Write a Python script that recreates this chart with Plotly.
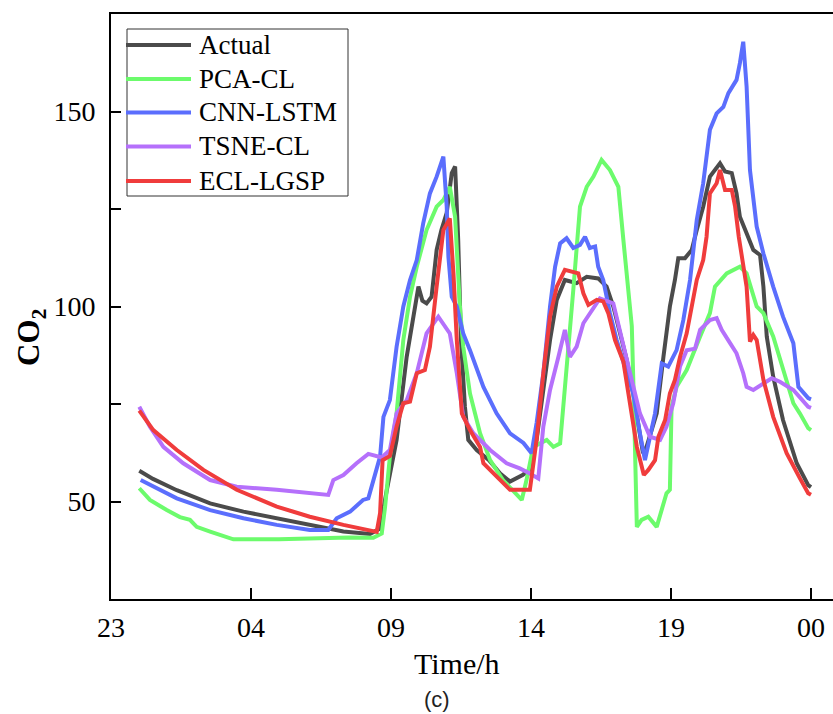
import plotly.graph_objects as go

# ---------------- data (x = hours elapsed since 23:00) ----------------
tick_pos = [0, 5, 10, 15, 20, 25]
tick_labels = ["23", "04", "09", "14", "19", "00"]
series_names = ["Actual", "PCA-CL", "CNN-LSTM", "TSNE-CL", "ECL-LGSP"]
series_colors = ["#4b4b4b", "#6cfb6c", "#5b6efd", "#b570fb", "#f03c3c"]

actual_x = [1.01, 1.5, 2.35, 3.54, 4.73, 5.92, 7.1, 8.3, 9.25, 9.6, 9.85, 10.2, 10.56, 10.8, 10.98, 11.12, 11.27, 11.45,
            11.63, 11.8, 11.99, 12.17, 12.29, 12.4, 12.5, 12.64, 12.76, 13.06, 13.5, 13.9, 14.25, 14.7, 14.96, 15.2,
            15.44, 15.68, 15.92, 16.21, 16.63, 16.99, 17.4, 17.7, 17.94, 18.18, 18.42, 18.65, 18.9, 19.0, 19.13, 19.3,
            19.49, 19.73, 19.96, 20.14, 20.26, 20.5, 20.74, 20.92, 21.15, 21.39, 21.75, 21.93, 22.17, 22.34, 22.46,
            22.7, 22.94, 23.18, 23.3, 23.42, 23.65, 24.0, 24.49, 24.9, 25.0]
actual_y = [57.9, 55.8, 52.9, 49.5, 47.4, 45.7, 44.2, 42.3, 41.7, 43.0, 52.9, 65.8, 87.1, 97.4, 105.1, 101.5, 100.8, 102.5,
            114.5, 119.6, 124.0, 134.2, 135.9, 117.0, 91.4, 74.3, 65.8, 63.2, 60.6, 57.2, 55.1, 56.8, 58.1, 65.8,
            78.6, 91.4, 101.7, 106.8, 106.0, 107.6, 107.2, 105.1, 100.0, 93.1, 86.3, 77.7, 67.5, 62.4, 64.1, 68.3,
            72.6, 87.1, 100.0, 106.8, 112.4, 112.4, 114.5, 119.6, 125.6, 133.3, 136.7, 134.6, 134.2, 129.0, 123.0,
            118.8, 114.5, 113.2, 105.1, 92.3, 82.0, 70.9, 59.8, 54.2, 53.7]

pca_x = [1.01, 1.39, 1.99, 2.46, 2.82, 3.06, 3.54, 4.37, 6.0, 7.5, 8.5, 9.37, 9.67, 9.79, 9.96, 10.2, 10.44, 10.68,
         10.92, 11.27, 11.63, 11.87, 12.1, 12.29, 12.46, 12.58, 12.82, 13.18, 13.54, 14.0, 14.43, 14.67, 14.84, 15.08,
         15.56, 15.8, 16.04, 16.27, 16.51, 16.75, 16.99, 17.23, 17.52, 17.82, 18.12, 18.3, 18.48, 18.6, 18.68, 18.78,
         18.95, 19.19, 19.49, 19.84, 19.96, 20.02, 20.2, 20.56, 21.04, 21.39, 21.57, 21.99, 22.46, 22.7, 23.06, 23.3,
         23.65, 24.0, 24.37, 24.6, 24.9, 25.0]
pca_y = [53.4, 50.4, 47.8, 46.0, 45.3, 43.5, 42.3, 40.3, 40.3, 40.6, 40.8, 40.7, 41.8, 48.7, 61.5, 72.6, 91.4, 102.5,
         110.2, 119.6, 125.6, 127.3, 130.7, 123.0, 100.0, 89.7, 77.7, 67.5, 60.6, 55.5, 52.1, 50.4, 55.5, 64.0,
         65.8, 64.0, 64.9, 82.9, 104.2, 125.6, 130.7, 133.3, 137.6, 135.0, 130.7, 117.0, 104.2, 95.0, 74.0, 43.5,
         45.3, 46.1, 43.5, 52.1, 53.0, 74.3, 79.4, 83.7, 92.3, 98.3, 105.1, 108.5, 110.2, 108.5, 100.0, 98.3,
         92.3, 83.7, 75.2, 72.6, 68.8, 68.3]

cnn_x = [1.06, 2.35, 3.54, 4.73, 5.92, 7.1, 7.76, 8.06, 8.54, 9.0, 9.19, 9.37, 9.61, 9.73, 9.96, 10.2, 10.44, 10.68,
         10.92, 11.15, 11.39, 11.63, 11.87, 11.99, 12.05, 12.17, 12.35, 12.58, 12.82, 13.3, 13.77, 14.25, 14.73,
         15.02, 15.2, 15.44, 15.68, 15.86, 16.04, 16.27, 16.51, 16.75, 16.93, 17.1, 17.29, 17.4, 17.58, 17.82, 18.06,
         18.42, 18.65, 18.89, 19.07, 19.25, 19.43, 19.67, 19.9, 20.2, 20.44, 20.68, 20.92, 21.15, 21.39, 21.63,
         21.87, 22.05, 22.34, 22.46, 22.58, 22.7, 22.82, 23.06, 23.3, 23.65, 24.0, 24.37, 24.55, 24.9, 25.0]
cnn_y = [55.5, 50.8, 47.8, 45.7, 44.0, 42.7, 42.7, 45.7, 47.4, 50.4, 50.8, 55.1, 61.5, 71.7, 76.0, 89.7, 100.0, 106.8,
         111.9, 121.3, 129.0, 133.3, 138.4, 125.6, 112.8, 102.5, 100.0, 93.1, 88.8, 79.4, 72.6, 67.5, 65.0,
         62.4, 70.1, 82.9, 100.0, 110.2, 116.2, 117.5, 115.0, 115.8, 117.9, 115.0, 115.4, 110.2, 106.8, 98.3, 91.4,
         82.9, 77.7, 67.5, 60.6, 66.6, 72.6, 85.4, 84.6, 88.8, 96.5, 106.8, 122.2, 131.6, 145.3, 149.5,
         151.2, 154.7, 158.1, 162.4, 167.9, 156.4, 135.0, 120.5, 113.6, 105.1, 97.4, 90.6, 79.4, 76.5, 76.2]

tsne_x = [1.01, 1.39, 1.87, 2.58, 3.54, 4.49, 5.92, 7.1, 7.76, 7.94, 8.3, 8.77, 9.19, 9.67, 9.96, 10.2, 10.56, 10.92,
          11.27, 11.69, 11.93, 12.1, 12.35, 12.58, 12.94, 13.54, 14.13, 14.6, 14.96, 15.26, 15.44, 15.68, 15.98, 16.21,
          16.39, 16.63, 16.87, 17.17, 17.46, 17.94, 18.18, 18.54, 18.89, 19.25, 19.61, 19.84, 20.08, 20.32, 20.56,
          20.86, 21.04, 21.39, 21.63, 21.81, 22.11, 22.34, 22.58, 22.7, 22.94, 23.3, 23.6, 23.89, 24.37, 24.9, 25.0]
tsne_y = [74.3, 69.2, 64.0, 59.8, 55.5, 53.8, 53.0, 52.1, 51.7, 55.5, 56.8, 59.8, 62.2, 61.3, 63.2, 72.6, 76.0, 82.9,
          93.1, 97.4, 94.8, 93.1, 82.9, 71.7, 67.5, 63.2, 59.8, 58.5, 57.2, 55.9, 69.2, 78.6, 87.1, 94.0,
          87.1, 89.7, 95.7, 99.1, 102.1, 100.8, 94.0, 82.9, 72.6, 66.6, 65.8, 69.2, 75.2, 84.6, 88.8,
          89.2, 94.0, 96.5, 97.0, 94.0, 90.6, 88.0, 82.9, 79.4, 78.6, 80.3, 81.6, 80.7, 78.6, 74.3, 74.0]

ecl_x = [1.01, 1.51, 2.35, 3.3, 4.49, 5.92, 7.1, 8.3, 9.49, 9.61, 9.7, 9.96, 10.2, 10.44, 10.68, 10.92, 11.21, 11.39,
         11.63, 11.87, 12.1, 12.23, 12.35, 12.53, 12.82, 13.18, 13.3, 13.77, 14.25, 14.49, 14.96, 15.2, 15.44, 15.68,
         15.92, 16.21, 16.51, 16.69, 16.87, 17.05, 17.35, 17.58, 17.76, 18.0, 18.3, 18.54, 18.78, 19.03, 19.19, 19.43,
         19.55, 19.79, 19.96, 20.14, 20.32, 20.56, 20.92, 21.15, 21.27, 21.39, 21.63, 21.75, 21.87, 21.93, 22.17,
         22.29, 22.42, 22.58, 22.7, 22.82, 22.94, 23.06, 23.3, 23.65, 24.13, 24.6, 24.9, 25.0]
ecl_y = [73.3, 68.3, 63.2, 58.1, 53.0, 48.7, 46.1, 44.0, 42.2, 47.0, 60.6, 61.7, 69.2, 75.2, 75.6, 82.9, 83.7, 89.7,
         105.1, 119.6, 122.6, 108.5, 91.4, 72.6, 68.3, 64.0, 59.8, 56.4, 53.0, 53.0, 53.0, 65.8, 82.9, 97.4,
         105.1, 109.4, 109.0, 108.5, 103.4, 100.4, 101.7, 101.3, 98.3, 91.4, 85.8, 74.3, 64.0, 56.8, 58.1, 60.6,
         66.6, 70.9, 77.7, 81.2, 87.0, 93.1, 106.8, 111.9, 117.9, 129.0, 131.6, 135.0, 131.6, 129.9, 129.9,
         125.6, 117.9, 111.1, 105.1, 91.0, 92.7, 91.4, 81.2, 71.7, 62.4, 56.0, 52.1, 51.7]

series_x = [actual_x, pca_x, cnn_x, tsne_x, ecl_x]
series_y = [actual_y, pca_y, cnn_y, tsne_y, ecl_y]

# ---------------- layout geometry ----------------
W, H = 833, 714
L, R, T, B = 111, 833, 14, 599
SERIF = "Liberation Serif"
SANS = "Liberation Sans"


def px(x):
    return (x - L) / (R - L)


def py(y):
    return (B - y) / (B - T)


fig = go.Figure()
for name, color, xs, ys in zip(series_names, series_colors, series_x, series_y):
    fig.add_trace(go.Scatter(x=xs, y=ys, mode="lines", name=name,
                             line=dict(color=color, width=4), showlegend=False))

fig.update_layout(
    width=W, height=H,
    margin=dict(l=L, r=W - R, t=T, b=H - B, pad=0),
    paper_bgcolor="white", plot_bgcolor="white",
    font=dict(family=SERIF, color="black"),
)
fig.update_xaxes(
    range=[0, 25 + (R - 811) / 28.0],
    tickvals=tick_pos, ticktext=tick_labels,
    ticks="inside", ticklen=11, tickwidth=2, tickcolor="black",
    showline=True, linewidth=2, linecolor="black", mirror=True,
    showgrid=False, zeroline=False,
    tickfont=dict(family=SERIF, size=28, color="black"),
    ticklabelstandoff=2,
)
fig.update_yaxes(
    range=[25, 175], tick0=0, dtick=50,
    ticks="inside", ticklen=10, tickwidth=2, tickcolor="black",
    minor=dict(dtick=25, tick0=0, ticks="inside", ticklen=10, tickwidth=2, tickcolor="black", showgrid=False),
    showline=True, linewidth=2, linecolor="black", mirror=False,
    showgrid=False, zeroline=False,
    tickfont=dict(family=SERIF, size=28, color="black"),
    ticklabelstandoff=8,
)

ann = []
# axis titles and caption
ann.append(dict(text="Time/h", x=px(457), y=py(663), xref="paper", yref="paper", showarrow=False,
                xanchor="center", yanchor="middle", font=dict(family=SERIF, size=30, color="black")))
ann.append(dict(text="<b>CO<sub>2</sub></b>", x=px(31), y=py(338), xref="paper", yref="paper", showarrow=False,
                textangle=-90, xanchor="center", yanchor="middle",
                font=dict(family=SERIF, size=31, color="black")))
ann.append(dict(text="(c)", x=px(437), y=py(699), xref="paper", yref="paper", showarrow=False,
                xanchor="center", yanchor="middle",
                font=dict(family=SANS, size=22, color="#222")))

# legend (drawn manually to match the long line swatches)
shapes = [dict(type="rect", xref="paper", yref="paper", x0=px(127), x1=px(348), y0=py(196), y1=py(29),
               line=dict(color="#333", width=1), fillcolor="rgba(255,255,255,0)", layer="above")]
row_y = [45, 79, 112.5, 146.5, 181]
for name, color, yy in zip(series_names, series_colors, row_y):
    shapes.append(dict(type="line", xref="paper", yref="paper", x0=px(126), x1=px(191), y0=py(yy), y1=py(yy),
                       line=dict(color=color, width=4), layer="above"))
    ann.append(dict(text=name, x=px(197), y=py(yy), xref="paper", yref="paper", showarrow=False,
                    xanchor="left", yanchor="middle", font=dict(family=SERIF, size=27, color="black")))

fig.update_layout(annotations=ann, shapes=shapes)
fig.write_html("out.html")
